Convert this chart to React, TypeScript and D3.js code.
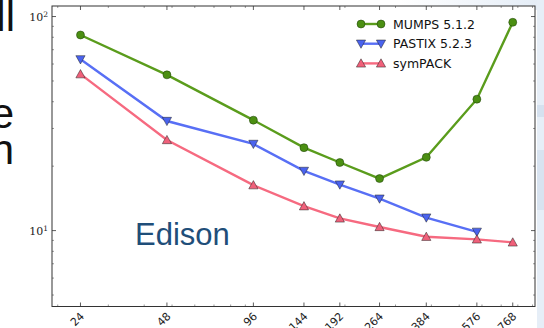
import React from "react";
import * as d3 from "d3";

// cores used in the strong-scaling run
const cores = [24, 48, 96, 144, 192, 264, 384, 576, 768];
const tickLabels = ["24", "48", "96", "144", "192", "264", "384", "576", "768"];

// factorization time (s)
const mumps = [82, 53.4, 32.8, 24.4, 20.8, 17.5, 22.0, 41.1, 94];
const pastix = [63.1, 32.5, 25.4, 19.0, 16.4, 14.1, 11.5, 9.87];
const sympack = [53.8, 26.5, 16.3, 13.0, 11.4, 10.4, 9.36, 9.1, 8.81];

const seriesNames = ["MUMPS 5.1.2", "PASTIX 5.2.3", "symPACK"];

const W = 544;
const H = 328;
const left = 52;
const right = 535;
const top = 6;
const bottom = 306.5;

const x = d3.scaleLog().base(2).domain([19.1, 918]).range([left, right]);
const y = d3.scaleLog().domain([4.42, 112]).range([bottom, top]);

const series = [
  { name: seriesNames[0], values: mumps, color: "#5a9c1c", fill: "#4b8f12", marker: "circle" },
  { name: seriesNames[1], values: pastix, color: "#586ff5", fill: "#4a63ee", marker: "down" },
  { name: seriesNames[2], values: sympack, color: "#f66a80", fill: "#f0607a", marker: "up" },
];

function Marker({ kind, cx, cy, fill }: { kind: string; cx: number; cy: number; fill: string }) {
  if (kind === "circle") {
    return <circle cx={cx} cy={cy} r={4} fill={fill} stroke="#1a3a08" strokeWidth={0.5} />;
  }
  const s = 4.6;
  const pts =
    kind === "up"
      ? [[cx, cy - s], [cx - s, cy + s * 0.8], [cx + s, cy + s * 0.8]]
      : [[cx, cy + s], [cx - s, cy - s * 0.8], [cx + s, cy - s * 0.8]];
  return <polygon points={pts.map((p) => p.join(",")).join(" ")} fill={fill} stroke="#222" strokeWidth={0.5} />;
}

export default function App() {
  const line = d3
    .line<number>()
    .x((_, i) => x(cores[i]))
    .y((d) => y(d));

  // log minor ticks
  const xMinor: number[] = [];
  [10, 100].forEach((dec) => {
    for (let k = 2; k <= 9; k++) {
      const v = k * dec;
      if (v > 19.1 && v < 918) xMinor.push(v);
    }
  });
  const yMinor: number[] = [];
  [1, 10, 100].forEach((dec) => {
    for (let k = 2; k <= 9; k++) {
      const v = k * dec;
      if (v > 4.42 && v < 112) yMinor.push(v);
    }
  });
  const yMajor = [10, 100];

  return (
    <svg width={W} height={H} style={{ position: "absolute", left: 0, top: 0 }}>
      <rect width={W} height={H} fill="#ffffff" />
      <defs>
        <linearGradient id="topfade" x1="0" x2="1" y1="0" y2="0">
          <stop offset="0" stopColor="#ffffff" />
          <stop offset="1" stopColor="#e3ecf6" />
        </linearGradient>
      </defs>
      <rect x={400} y={0} width={144} height={10} fill="url(#topfade)" />
      <rect x={537} y={0} width={7} height={H} fill="#e6eef7" />
      <rect x={537} y={105} width={7} height={12} fill="#d5e1ef" />
      <rect x={537} y={150} width={7} height={60} fill="#d8e3f0" />

      {/* slide text fragments on the left */}
      <g fontFamily="Liberation Sans, Arial, sans-serif" fontSize={42} fill="#111">
        <text x={15} y={31} textAnchor="end">ll</text>
        <text x={14} y={128} textAnchor="end">e</text>
        <text x={14} y={164} textAnchor="end">n</text>
      </g>

      <rect x={left} y={top} width={right - left} height={bottom - top} fill="#fff" />

      {/* ticks */}
      <g stroke="#333" strokeWidth={0.8}>
        {cores.map((c) => (
          <g key={"xt" + c}>
            <line x1={x(c)} x2={x(c)} y1={bottom} y2={bottom - 4} />
            <line x1={x(c)} x2={x(c)} y1={top} y2={top + 4} />
          </g>
        ))}
        {xMinor.map((v) => (
          <g key={"xm" + v} strokeWidth={0.5}>
            <line x1={x(v)} x2={x(v)} y1={bottom} y2={bottom - 2} />
            <line x1={x(v)} x2={x(v)} y1={top} y2={top + 2} />
          </g>
        ))}
        {yMajor.map((v) => (
          <g key={"yt" + v}>
            <line x1={left} x2={left + 4} y1={y(v)} y2={y(v)} />
            <line x1={right} x2={right - 4} y1={y(v)} y2={y(v)} />
          </g>
        ))}
        {yMinor.map((v) => (
          <g key={"ym" + v} strokeWidth={0.5}>
            <line x1={left} x2={left + 2} y1={y(v)} y2={y(v)} />
            <line x1={right} x2={right - 2} y1={y(v)} y2={y(v)} />
          </g>
        ))}
      </g>

      {/* y tick labels */}
      <g fontFamily="DejaVu Serif, serif" fontSize={11} fill="#222">
        {yMajor.map((v) => (
          <text key={"yl" + v} x={left - 4} y={y(v) + 4} textAnchor="end">
            10
            <tspan dy={-4} fontSize={7.5}>{Math.round(Math.log10(v))}</tspan>
          </text>
        ))}
      </g>

      {/* x tick labels */}
      <g fontFamily="DejaVu Sans, sans-serif" fontSize={11} fill="#222">
        {cores.map((c, i) => (
          <text
            key={"xl" + c}
            textAnchor="end"
            transform={`translate(${x(c) - 1},${bottom + 5}) rotate(-45)`}
            dy="0.7em"
          >
            {tickLabels[i]}
          </text>
        ))}
      </g>

      {/* series */}
      {series.map((s) => (
        <g key={s.name}>
          <path d={line(s.values) || ""} fill="none" stroke={s.color} strokeWidth={2.4} />
          {s.values.map((v, i) => (
            <Marker key={i} kind={s.marker} cx={x(cores[i])} cy={y(v)} fill={s.fill} />
          ))}
        </g>
      ))}

      <rect x={left} y={top} width={right - left} height={bottom - top} fill="none" stroke="#333" strokeWidth={1} />

      {/* legend */}
      <g fontFamily="DejaVu Sans, sans-serif" fontSize={12.5} fill="#111">
        {series.map((s, i) => {
          const ly = 24 + i * 19.7;
          return (
            <g key={"lg" + s.name}>
              <line x1={361} x2={381} y1={ly} y2={ly} stroke={s.color} strokeWidth={2.4} />
              <Marker kind={s.marker} cx={361} cy={ly} fill={s.fill} />
              <Marker kind={s.marker} cx={381} cy={ly} fill={s.fill} />
              <text x={393} y={ly + 4.5}>{s.name}</text>
            </g>
          );
        })}
      </g>

      <text x={135} y={245} fontFamily="Liberation Sans, Arial, sans-serif" fontSize={31} fill="#1f4e79">
        Edison
      </text>
    </svg>
  );
}
